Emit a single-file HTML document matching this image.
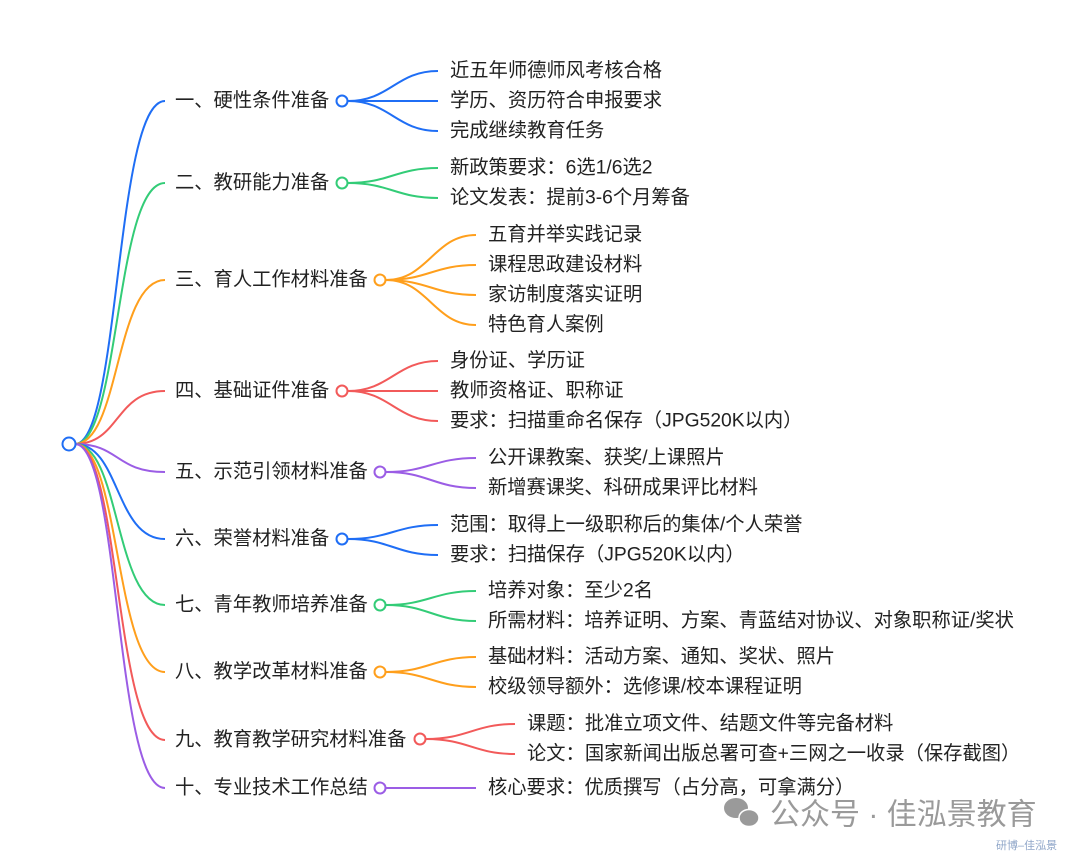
<!DOCTYPE html>
<html><head><meta charset="utf-8"><style>
html,body{margin:0;padding:0;background:#fff;}
svg{display:block;}
text{font-family:"Liberation Sans","Noto Sans CJK SC",sans-serif;font-size:19.3px;fill:#222;dominant-baseline:central;}
path{fill:none;stroke-width:2;}
circle{fill:#fff;stroke-width:2;}
.b{stroke:#1f6ef5}.g{stroke:#33cc77}.o{stroke:#ff9f1c}.r{stroke:#f25a5a}.p{stroke:#9b5de5}
</style></head><body>
<svg width="1080" height="860" viewBox="0 0 1080 860">
<path class="b" d="M75,444 C120,444 115,101 165,101"/>
<path class="g" d="M75,444 C120,444 115,183 165,183"/>
<path class="o" d="M75,444 C120,444 115,280 165,280"/>
<path class="r" d="M75,444 C120,444 115,391 165,391"/>
<path class="p" d="M75,444 C120,444 115,472 165,472"/>
<path class="b" d="M75,444 C120,444 115,539 165,539"/>
<path class="g" d="M75,444 C120,444 115,605 165,605"/>
<path class="o" d="M75,444 C120,444 115,672 165,672"/>
<path class="r" d="M75,444 C120,444 115,740 165,740"/>
<path class="p" d="M75,444 C120,444 115,788 165,788"/>
<circle class="b" cx="69" cy="444" r="6.5"/>

<text x="175" y="101">一、硬性条件准备</text>
<path class="b" d="M348,101 C390,101 396,71 438,71"/>
<path class="b" d="M348,101 L438,101"/>
<path class="b" d="M348,101 C390,101 396,131 438,131"/>
<circle class="b" cx="342" cy="101" r="5.5"/>
<text x="450" y="71">近五年师德师风考核合格</text>
<text x="450" y="101">学历、资历符合申报要求</text>
<text x="450" y="131">完成继续教育任务</text>

<text x="175" y="183">二、教研能力准备</text>
<path class="g" d="M348,183 C390,183 396,168 438,168"/>
<path class="g" d="M348,183 C390,183 396,198 438,198"/>
<circle class="g" cx="342" cy="183" r="5.5"/>
<text x="450" y="168">新政策要求：6选1/6选2</text>
<text x="450" y="198">论文发表：提前3-6个月筹备</text>

<text x="175" y="280">三、育人工作材料准备</text>
<path class="o" d="M386,280 C428,280 434,235 476,235"/>
<path class="o" d="M386,280 C428,280 434,265 476,265"/>
<path class="o" d="M386,280 C428,280 434,295 476,295"/>
<path class="o" d="M386,280 C428,280 434,325 476,325"/>
<circle class="o" cx="380" cy="280" r="5.5"/>
<text x="488" y="235">五育并举实践记录</text>
<text x="488" y="265">课程思政建设材料</text>
<text x="488" y="295">家访制度落实证明</text>
<text x="488" y="325">特色育人案例</text>

<text x="175" y="391">四、基础证件准备</text>
<path class="r" d="M348,391 C390,391 396,361 438,361"/>
<path class="r" d="M348,391 L438,391"/>
<path class="r" d="M348,391 C390,391 396,421 438,421"/>
<circle class="r" cx="342" cy="391" r="5.5"/>
<text x="450" y="361">身份证、学历证</text>
<text x="450" y="391">教师资格证、职称证</text>
<text x="450" y="421">要求：扫描重命名保存（JPG520K以内）</text>

<text x="175" y="472">五、示范引领材料准备</text>
<path class="p" d="M386,472 C428,472 434,458 476,458"/>
<path class="p" d="M386,472 C428,472 434,488 476,488"/>
<circle class="p" cx="380" cy="472" r="5.5"/>
<text x="488" y="458">公开课教案、获奖/上课照片</text>
<text x="488" y="488">新增赛课奖、科研成果评比材料</text>

<text x="175" y="539">六、荣誉材料准备</text>
<path class="b" d="M348,539 C390,539 396,525 438,525"/>
<path class="b" d="M348,539 C390,539 396,555 438,555"/>
<circle class="b" cx="342" cy="539" r="5.5"/>
<text x="450" y="525">范围：取得上一级职称后的集体/个人荣誉</text>
<text x="450" y="555">要求：扫描保存（JPG520K以内）</text>

<text x="175" y="605">七、青年教师培养准备</text>
<path class="g" d="M386,605 C428,605 434,591 476,591"/>
<path class="g" d="M386,605 C428,605 434,621 476,621"/>
<circle class="g" cx="380" cy="605" r="5.5"/>
<text x="488" y="591">培养对象：至少2名</text>
<text x="488" y="621">所需材料：培养证明、方案、青蓝结对协议、对象职称证/奖状</text>

<text x="175" y="672">八、教学改革材料准备</text>
<path class="o" d="M386,672 C428,672 434,657 476,657"/>
<path class="o" d="M386,672 C428,672 434,687 476,687"/>
<circle class="o" cx="380" cy="672" r="5.5"/>
<text x="488" y="657">基础材料：活动方案、通知、奖状、照片</text>
<text x="488" y="687">校级领导额外：选修课/校本课程证明</text>

<text x="175" y="740">九、教育教学研究材料准备</text>
<path class="r" d="M426,739 C468,739 474,724 515,724"/>
<path class="r" d="M426,739 C468,739 474,754 515,754"/>
<circle class="r" cx="420" cy="739" r="5.5"/>
<text x="527" y="724">课题：批准立项文件、结题文件等完备材料</text>
<text x="527" y="754">论文：国家新闻出版总署可查+三网之一收录（保存截图）</text>

<text x="175" y="788">十、专业技术工作总结</text>
<path class="p" d="M386,788 L476,788"/>
<circle class="p" cx="380" cy="788" r="5.5"/>
<text x="488" y="788">核心要求：优质撰写（占分高，可拿满分）</text>

<g fill="#9a9a9a">
<ellipse cx="736" cy="808" rx="12" ry="10"/>
<ellipse cx="749" cy="818" rx="10" ry="8.5" stroke="#fff" stroke-width="1.5"/>
</g>
<text x="770" y="815" style="font-size:30px;fill:#9a9a9a">公众号 · 佳泓景教育</text>
<text x="996" y="846" style="font-size:11px;fill:#8fa6c8">研博–佳泓景</text>
</svg>
</body></html>
